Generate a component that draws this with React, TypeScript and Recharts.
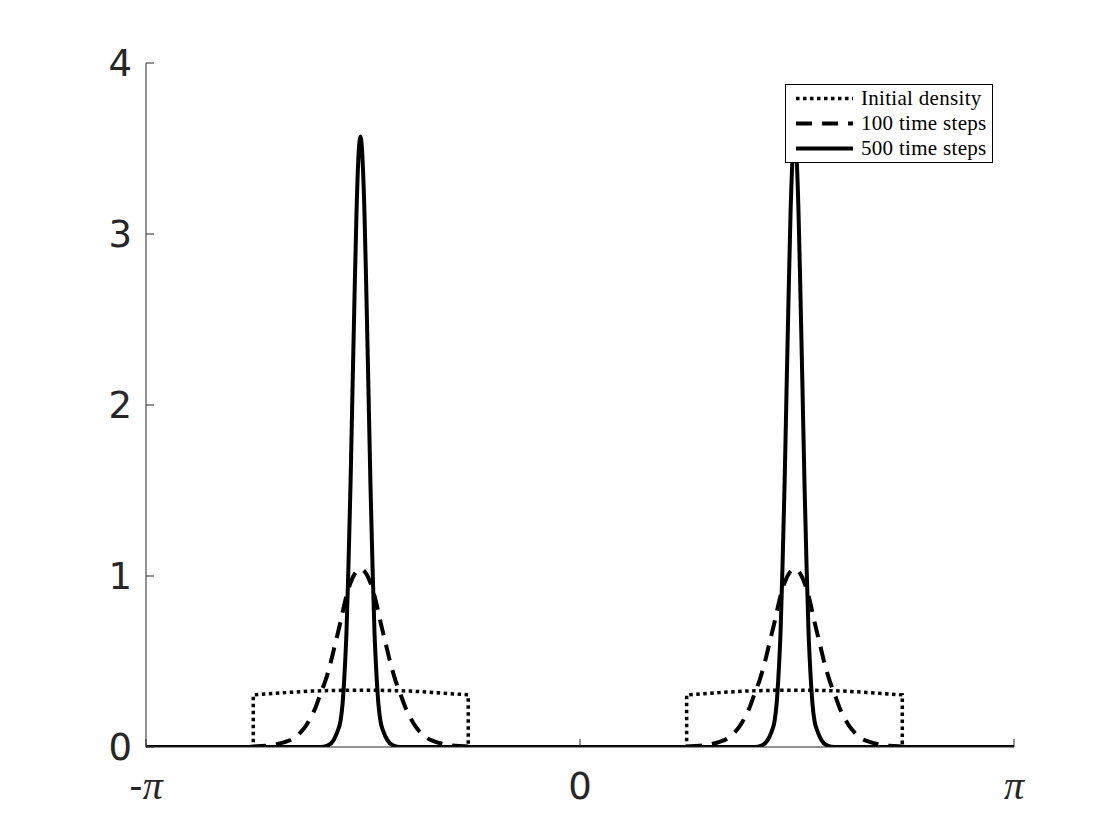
import { LineChart, Line, XAxis, YAxis, Legend } from 'recharts';

// density profiles (x in radians)
const initialX = [-3.1416, -2.365, -2.365, -2.132, -1.951, -1.77, -1.589, -1.408, -1.227, -1.046, -0.809, -0.809,
    0.772, 0.772, 1.01, 1.191, 1.372, 1.553, 1.734, 1.915, 2.096, 2.333, 2.333, 3.1416];
const initialY = [0, 0, 0.305, 0.318, 0.327, 0.331, 0.332, 0.331, 0.327, 0.318, 0.305, 0,
    0, 0.305, 0.318, 0.327, 0.331, 0.332, 0.331, 0.327, 0.318, 0.305, 0, 0];

const steps100X = [-3.1416,
    -2.458, -2.364, -2.277, -2.204, -2.132, -2.074, -2.023, -1.987, -1.951, -1.915, -1.879, -1.842, -1.806,
    -1.77, -1.734, -1.698, -1.661, -1.625, -1.589, -1.553, -1.517, -1.48, -1.444, -1.408, -1.372, -1.336,
    -1.3, -1.263, -1.227, -1.191, -1.155, -1.104, -1.046, -0.974, -0.901, -0.814, -0.72,
    0.684, 0.778, 0.865, 0.938, 1.01, 1.068, 1.119, 1.155, 1.191, 1.227, 1.263, 1.3, 1.336,
    1.372, 1.408, 1.444, 1.481, 1.517, 1.553, 1.589, 1.625, 1.662, 1.698, 1.734, 1.77, 1.806,
    1.843, 1.879, 1.915, 1.951, 1.987, 2.038, 2.096, 2.168, 2.241, 2.327, 2.422,
    3.1416];
const steps100Y = [0,
    0, 0.003, 0.007, 0.015, 0.03, 0.05, 0.085, 0.12, 0.17, 0.23, 0.31, 0.39, 0.49,
    0.61, 0.73, 0.86, 0.96, 1.02, 1.04, 1.02, 0.96, 0.86, 0.73, 0.61, 0.49, 0.39,
    0.31, 0.23, 0.17, 0.12, 0.085, 0.05, 0.03, 0.015, 0.007, 0.003, 0,
    0, 0.003, 0.007, 0.015, 0.03, 0.05, 0.085, 0.12, 0.17, 0.23, 0.31, 0.39, 0.49,
    0.61, 0.73, 0.86, 0.96, 1.02, 1.04, 1.02, 0.96, 0.86, 0.73, 0.61, 0.49, 0.39,
    0.31, 0.23, 0.17, 0.12, 0.085, 0.05, 0.03, 0.015, 0.007, 0.003, 0,
    0];

const steps500X = [-3.1416,
    -1.879, -1.828, -1.784, -1.756, -1.734, -1.719, -1.705, -1.69, -1.676, -1.661, -1.647, -1.632, -1.618,
    -1.604, -1.589, -1.575, -1.56, -1.546, -1.531, -1.517, -1.502, -1.488, -1.473, -1.459, -1.444, -1.423,
    -1.394, -1.35, -1.3,
    1.264, 1.314, 1.358, 1.387, 1.408, 1.423, 1.437, 1.452, 1.466, 1.481, 1.495, 1.51, 1.524,
    1.539, 1.553, 1.568, 1.582, 1.596, 1.611, 1.625, 1.64, 1.654, 1.669, 1.683, 1.698, 1.72,
    1.748, 1.792, 1.843,
    3.1416];
const steps500Y = [0,
    0, 0.008, 0.04, 0.09, 0.15, 0.25, 0.42, 0.68, 1.06, 1.54, 2.08, 2.64, 3.12,
    3.45, 3.57, 3.45, 3.12, 2.64, 2.08, 1.54, 1.06, 0.68, 0.42, 0.25, 0.15, 0.09,
    0.04, 0.008, 0,
    0, 0.008, 0.04, 0.09, 0.15, 0.25, 0.42, 0.68, 1.06, 1.54, 2.08, 2.64, 3.12,
    3.45, 3.57, 3.45, 3.12, 2.64, 2.08, 1.54, 1.06, 0.68, 0.42, 0.25, 0.15, 0.09,
    0.04, 0.008, 0,
    0];

const seriesNames = ['Initial density', '100 time steps', '500 time steps'];
const xTicks = [-Math.PI, 0, Math.PI];
const yTicks = [0, 1, 2, 3, 4];

const toPoints = (xs: number[], ys: number[]) => xs.map((x, i) => ({ x, y: ys[i] }));

const INK = '#262626';
const SANS = '"DejaVu Sans", sans-serif';
const SERIF = '"Liberation Serif", serif';
const dashes = ['3.5 3.5', '16 10', undefined];
const widths = [3.5, 4, 4];

function XTick({ x, y, payload }: any) {
    const v = payload.value;
    let label;
    if (v < 0) {
        label = (
            <>
                <tspan fontFamily={SANS} fontSize={37}>-</tspan>
                <tspan fontFamily={SERIF} fontStyle="italic" fontSize={40}>π</tspan>
            </>
        );
    } else if (v > 0) {
        label = <tspan fontFamily={SERIF} fontStyle="italic" fontSize={40}>π</tspan>;
    } else {
        label = <tspan fontFamily={SANS} fontSize={37}>0</tspan>;
    }
    return (
        <g>
            <line x1={x} x2={x} y1={y} y2={y - 8} stroke={INK} />
            <text x={x} y={y + 52} textAnchor="middle" fill={INK}>{label}</text>
        </g>
    );
}

function YTick({ x, y, payload }: any) {
    return (
        <g>
            <line x1={x} x2={x + 8} y1={y} y2={y} stroke={INK} />
            <text x={x - 14} y={y} dy="0.36em" textAnchor="end" fontFamily={SANS} fontSize={37} fill={INK}>
                {payload.value}
            </text>
        </g>
    );
}

function LegendBox() {
    return (
        <div style={{ width: 206, height: 75, padding: '1px 0', border: '1px solid #000', background: '#fff' }}>
            {seriesNames.map((name, i) => (
                <div key={name} style={{ display: 'flex', alignItems: 'center', height: 25 }}>
                    <svg width={75} height={25} style={{ flex: 'none' }}>
                        <line x1={10} x2={67} y1={12.5} y2={12.5} stroke="#000" strokeWidth={widths[i]}
                            strokeDasharray={dashes[i]} />
                    </svg>
                    <span style={{ fontFamily: SERIF, fontSize: 21, letterSpacing: 0.3, lineHeight: '25px', whiteSpace: 'nowrap', color: '#000' }}>
                        {name}
                    </span>
                </div>
            ))}
        </div>
    );
}

export default function App() {
    const series = [
        toPoints(initialX, initialY),
        toPoints(steps100X, steps100Y),
        toPoints(steps500X, steps500Y),
    ];
    return (
        <div style={{ position: 'absolute', left: 0, top: 0, background: '#fff' }}>
            <LineChart width={1120} height={840} margin={{ top: 63, right: 106, bottom: 33, left: 86 }}>
                <XAxis type="number" dataKey="x" domain={[-Math.PI, Math.PI]} ticks={xTicks} interval={0}
                    allowDataOverflow height={60} stroke={INK} tickLine={false} tickSize={0} tickMargin={0}
                    tick={(p: any) => <XTick {...p} />} />
                <YAxis type="number" domain={[0, 4]} ticks={yTicks} interval={0} allowDataOverflow width={60}
                    stroke={INK} tickLine={false} tickSize={0} tickMargin={0}
                    tick={(p: any) => <YTick {...p} />} />
                {series.map((pts, i) => (
                    <Line key={seriesNames[i]} data={pts} dataKey="y" name={seriesNames[i]}
                        type={i === 0 ? 'linear' : 'monotone'} stroke="#000" strokeWidth={widths[i]}
                        strokeDasharray={dashes[i]} dot={false} activeDot={false} isAnimationActive={false} />
                ))}
                <Legend layout="vertical" align="center" verticalAlign="middle" content={() => <LegendBox />}
                    wrapperStyle={{ left: 785, top: 84, width: 'auto', height: 'auto' }} />
            </LineChart>
        </div>
    );
}
